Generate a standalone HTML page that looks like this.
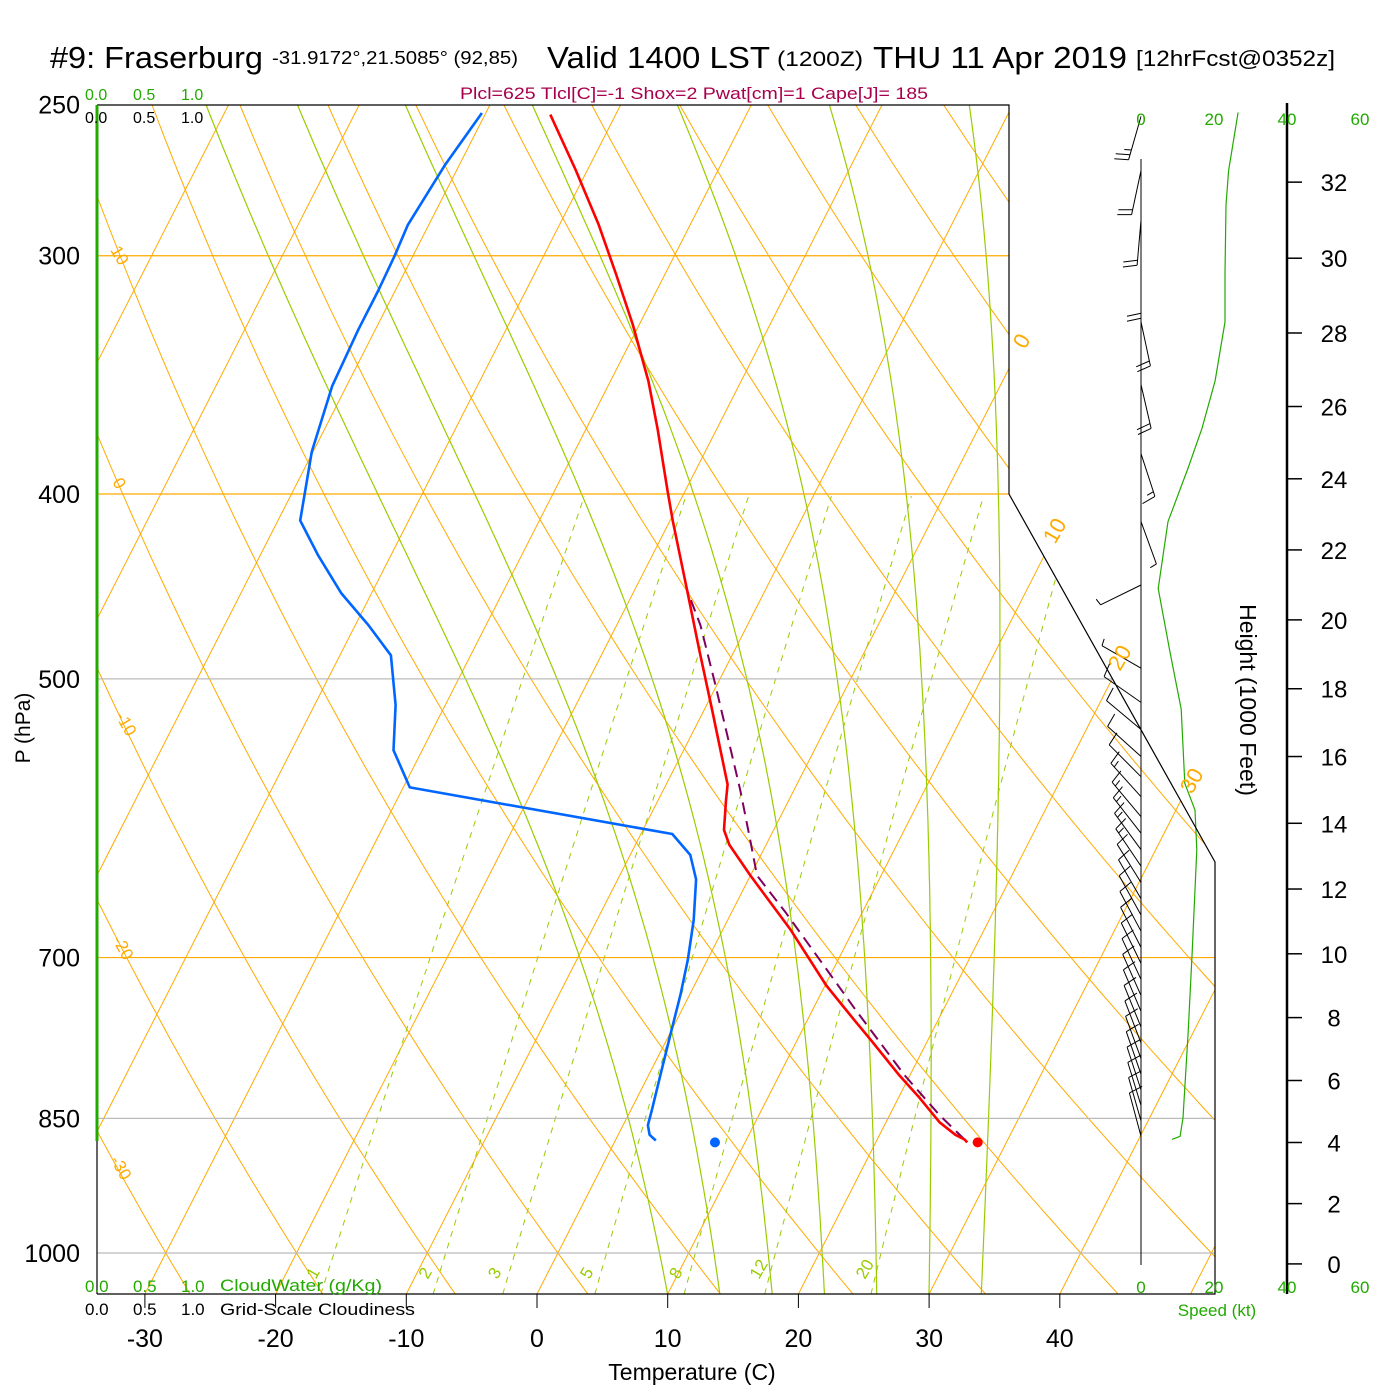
<!DOCTYPE html>
<html><head><meta charset="utf-8"><title>Skew-T Fraserburg</title>
<style>
html,body{margin:0;padding:0;background:#fff;}
svg{display:block;font-family:"Liberation Sans",Arial,sans-serif;}
</style></head>
<body>
<svg id="chart" width="1400" height="1400" viewBox="0 0 1400 1400" xmlns="http://www.w3.org/2000/svg">
<defs>
<clipPath id="plotclip"><path d="M97,105 L1009,105 L1009,494 L1215,862 L1215,1294 L97,1294 Z"/></clipPath>
</defs>
<rect x="0" y="0" width="1400" height="1400" fill="#fff"/>
<g id="grid" clip-path="url(#plotclip)"></g>
<g id="series" clip-path="url(#plotclip)"></g>
<g id="wind"></g>
<g id="axes"></g>

<text x="50" y="68" font-size="31" textLength="213" lengthAdjust="spacingAndGlyphs">#9: Fraserburg</text>
<text x="272" y="64" font-size="18" textLength="246" lengthAdjust="spacingAndGlyphs">-31.9172°,21.5085° (92,85)</text>
<text x="547" y="68" font-size="31" textLength="223" lengthAdjust="spacingAndGlyphs">Valid 1400 LST</text>
<text x="777" y="66" font-size="21" textLength="86" lengthAdjust="spacingAndGlyphs">(1200Z)</text>
<text x="873" y="68" font-size="31" textLength="254" lengthAdjust="spacingAndGlyphs">THU 11 Apr 2019</text>
<text x="1136" y="66" font-size="22" textLength="199" lengthAdjust="spacingAndGlyphs">[12hrFcst@0352z]</text>
<text x="460" y="99" font-size="17" fill="#a8004c" textLength="468" lengthAdjust="spacingAndGlyphs">Plcl=625 Tlcl[C]=-1 Shox=2 Pwat[cm]=1 Cape[J]= 185</text>

<g font-size="16" fill="#22aa00">
<text x="85" y="100">0.0</text><text x="133" y="100">0.5</text><text x="181" y="100">1.0</text></g>
<g font-size="16" fill="#000">
<text x="85" y="123">0.0</text><text x="133" y="123">0.5</text><text x="181" y="123">1.0</text></g>
<g font-size="17" fill="#22aa00">
<text x="85" y="1292">0.0</text><text x="133" y="1292">0.5</text><text x="181" y="1292">1.0</text><text x="220" y="1291" textLength="162" lengthAdjust="spacingAndGlyphs">CloudWater (g/Kg)</text></g>
<g font-size="17" fill="#000">
<text x="85" y="1315">0.0</text><text x="133" y="1315">0.5</text><text x="181" y="1315">1.0</text><text x="220" y="1315" textLength="195" lengthAdjust="spacingAndGlyphs">Grid-Scale Cloudiness</text></g>

<text x="692" y="1380" font-size="23" text-anchor="middle">Temperature (C)</text>
<text transform="translate(30,728) rotate(-90)" font-size="21" text-anchor="middle">P (hPa)</text>
<text transform="translate(1240,700) rotate(90)" font-size="23" text-anchor="middle">Height (1000 Feet)</text>
<text x="1217" y="1316" font-size="17" fill="#22aa00" text-anchor="middle">Speed (kt)</text>

<script>
const pressureTicks=[250,300,400,500,700,850,1000];
const pressureTickLabels=["250","300","400","500","700","850","1000"];
const tempTicks=[-30,-20,-10,0,10,20,30,40];
const tempTickLabels=["-30","-20","-10","0","10","20","30","40"];
const heightTicks=[0,2,4,6,8,10,12,14,16,18,20,22,24,26,28,30,32];
const speedTicks=[0,20,40,60];

const tempP=[875,872,867,854,828,807,773,755,724,677,634,611,600,579,568,519,483,449,413,398,370,349,326,307,289,270.5,253];
const tempC=[27.0,26.7,25.8,24.1,21.5,19.2,15.6,13.6,10.1,5.2,0.0,-2.8,-3.8,-4.8,-5.3,-9.4,-12.7,-16.0,-19.8,-21.4,-24.5,-27.1,-30.5,-33.7,-37.0,-40.9,-45.0];
const dewP=[873,867,857,841,807,769,732,702,669,637,618.5,603,570,545,516,486,468.6,451,430.5,413,380,351,328,313,300,289,269,252.5];
const dewC=[3.1,2.4,1.9,1.6,0.9,0.1,-0.7,-1.5,-2.6,-4.0,-5.4,-7.6,-29.5,-32.2,-33.8,-36.1,-39.0,-42.3,-45.6,-48.3,-50.1,-51.1,-51.3,-51.3,-51.4,-51.6,-51.1,-50.3];
const parcelP=[872,846.5,807,745.7,702,662.6,634,607.4,572,538,500.7,468.6,449];
const parcelC=[26.7,23.8,19.6,13.3,8.6,4.1,0.5,-1.4,-4.1,-7.0,-10.4,-13.6,-16.0];
const surfaceP=[875];
const surfaceT=[27.8];
const surfaceTd=[7.7];

const speedKft=[4.1,4.2,4.8,7.5,10.0,13.2,14.4,15.2,17.4,19.1,20.9,22.8,24.3,25.4,26.7,28.3,29.6,31.4,32.3,33.8];
const speedKt=[8.5,10.7,11.5,12.9,14,15.3,14.8,12,11,7.9,4.7,7.4,12.9,16.7,20.3,23,23,23.3,24,26.6];

const windKft=[33.7,32.3,31.0,29.6,28.3,26.6,24.7,22.8,21.0,18.6,17.6,16.8,16.0,15.4,14.8,14.2,13.7,13.2,12.7,12.2,11.7,11.2,10.7,10.2,9.7,9.2,8.7,8.2,7.7,7.2,6.7,6.2,5.7,5.2,4.7,4.2];
const windDir=[196,192,185,180,168,167,162,160,244,300,305,310,312,315,318,320,322,324,326,328,330,331,332,333,334,335,336,337,338,339,340,341,342,343,344,345];
const windKt=[27,24,23,23,23,20,15,8,5,8,11,12,13,14,15,15,15,15,15,14,14,14,14,14,13,13,13,13,12,12,12,12,12,11,11,11];

const dryThetas=[-40,-30,-20,-10,0,10,20,30,40,50,60,70,80,90,100,110,120,130,140,150,160,170,180];
const isotherms=[-130,-120,-110,-100,-90,-80,-70,-60,-50,-40,-30,-20,-10,0,10,20,30,40,50];
const moistStarts=[10,14,18,22,26,30,34];
const mixRatios=[1,2,3,5,8,12,20];

const NS='http://www.w3.org/2000/svg';
function yP(p){return 1253-828.3*Math.log(1000/p);}
function xTP(T,p){return 537+13.07*T+0.51*(1294-yP(p));}
function kftToP(k){const z=k*304.8;return 1013.25*Math.pow(1-z/44330.8,5.2559);}
function yK(k){return yP(kftToP(k));}
function xSpd(s){return 1141+3.65*s;}
function mk(tag,attrs,parent){const e=document.createElementNS(NS,tag);for(const k in attrs)e.setAttribute(k,attrs[k]);parent.appendChild(e);return e;}
function pts(arr){return arr.map(a=>a[0].toFixed(1)+','+a[1].toFixed(1)).join(' ');}

const grid=document.getElementById('grid');
const series=document.getElementById('series');
const wind=document.getElementById('wind');
const axes=document.getElementById('axes');
const ORANGE='#ffaa00', GREEN='#99cc00';

isotherms.forEach(t=>{
  const l=mk('line',{x1:xTP(t,1051),y1:yP(1051),x2:xTP(t,240),y2:yP(240),stroke:ORANGE,'stroke-width':1},grid);
  
  
});
dryThetas.forEach(th=>{
  const a=[];for(let p=1051;p>=240;p-=10){a.push([xTP((th+273.15)*Math.pow(p/1000,0.2857)-273.15,p),yP(p)]);}
  const l=mk('polyline',{points:pts(a),fill:'none',stroke:ORANGE,'stroke-width':1},grid);
  
  
});
function es(tc){return 6.112*Math.exp(17.67*tc/(tc+243.5));}
function moist(T0,p0,pEnd){
  let T=T0+273.15,p=p0;const a=[[xTP(T0,p0),yP(p0)]];
  while(p>pEnd){
    const e=es(T-273.15),rs=0.622*e/(p-e);
    const dTdp=(287*T+2.5e6*rs)/(p*(1004+2.5e6*2.5e6*rs*0.622/(287*T*T)));
    T-= dTdp*4; p-=4;
    a.push([xTP(T-273.15,p),yP(p)]);
  }
  return a;
}
moistStarts.forEach(t=>{
  const l=mk('polyline',{points:pts(moist(t,1051,240)),fill:'none',stroke:GREEN,'stroke-width':1.2},grid);
  
  
});
mixRatios.forEach(w=>{
  const a=[];for(let p=1051;p>=400;p-=10){const e=(w/1000)*p/(0.622+w/1000);const L=Math.log(e/6.112);const td=243.5*L/(17.67-L);a.push([xTP(td,p),yP(p)]);}
  const l=mk('polyline',{points:pts(a),fill:'none',stroke:GREEN,'stroke-width':1,'stroke-dasharray':'6,6'},grid);
  
  
  const e0=(w/1000)*1040/(0.622+w/1000);const L0=Math.log(e0/6.112);const td0=243.5*L0/(17.67-L0);
  const bx=xTP(td0,1040)-8;
  const tx=mk('text',{x:bx,y:1280,'font-size':17,fill:GREEN,transform:'rotate(-60 '+bx+' 1280)'},axes);
  tx.textContent=String(w);
  
  
});
pressureTicks.forEach(p=>{
  const col=(p===300||p===400||p===700)?ORANGE:'#bbbbbb';
  const l=mk('line',{x1:97,y1:yP(p),x2:1215,y2:yP(p),stroke:col,'stroke-width':1.2},grid);
  
  
});

function line(P,T,attrs,name){
  const a=P.map((p,i)=>[xTP(T[i],p),yP(p)]);
  const attr=Object.assign({points:pts(a),fill:'none','stroke-linejoin':'round'},attrs);
  const l=mk('polyline',attr,series);
  
  
}
line(parcelP,parcelC,{stroke:'#800060','stroke-width':2,'stroke-dasharray':'12,7'},'parcel-path');
line(tempP,tempC,{stroke:'#ff0000','stroke-width':2.6},'temperature-line');
line(dewP,dewC,{stroke:'#0066ff','stroke-width':2.6},'dewpoint-line');
const d1=mk('circle',{cx:xTP(surfaceT[0],surfaceP[0]),cy:yP(surfaceP[0]),r:5,fill:'#ff0000'},series);


const d2=mk('circle',{cx:xTP(surfaceTd[0],surfaceP[0]),cy:yP(surfaceP[0]),r:5,fill:'#0066ff'},series);



const fr=mk('path',{d:'M97,105 L1009,105 L1009,494 L1215,862 L1215,1294 L97,1294',fill:'none',stroke:'#000','stroke-width':1.2},axes);


const lg=mk('line',{x1:97,y1:105,x2:97,y2:1141,stroke:'#22aa00','stroke-width':3},axes);


const lb=mk('line',{x1:97,y1:1141,x2:97,y2:1294,stroke:'#000','stroke-width':1.2},axes);



const dryLbl=[["10",110,250],["0",112,482],["-10",115,716],["-20",112,940],["-30",110,1160]];
dryLbl.forEach(d=>{const t=mk('text',{x:d[1],y:d[2],'font-size':17,fill:ORANGE,transform:'rotate(60 '+d[1]+' '+d[2]+')'},axes);t.textContent=d[0];
  
  });
const isoLbl=[["0",1025,350],["10",1055,545],["20",1120,672],["30",1192,795]];
isoLbl.forEach(d=>{const t=mk('text',{x:d[1],y:d[2],'font-size':22,fill:ORANGE,transform:'rotate(-60 '+d[1]+' '+d[2]+')'},axes);t.textContent=d[0];
  
  });

pressureTicks.forEach((p,i)=>{
  const t=mk('text',{x:80,y:yP(p)+9,'font-size':25,'text-anchor':'end'},axes);
  t.textContent=pressureTickLabels[i];
  
  
});
tempTicks.forEach((tv,i)=>{
  const x=537+13.07*tv;
  const tk=mk('line',{x1:x,y1:1294,x2:x,y2:1308,stroke:'#000','stroke-width':1},axes);
  
  
  const t=mk('text',{x:x,y:1347,'font-size':25,'text-anchor':'middle'},axes);
  t.textContent=tempTickLabels[i];
  
  
});
const ha=mk('line',{x1:1287,y1:103,x2:1287,y2:1294,stroke:'#000','stroke-width':2.5},axes);


heightTicks.forEach(h=>{
  const y=yK(h);
  const tk=mk('line',{x1:1287,y1:y,x2:1302,y2:y,stroke:'#000','stroke-width':1.5},axes);
  
  
  const t=mk('text',{x:1334,y:y+9,'font-size':24,'text-anchor':'middle'},axes);
  t.textContent=String(h);
  
  
});
speedTicks.forEach(s=>{
  const t1=mk('text',{x:xSpd(s),y:125,'font-size':17,fill:'#22aa00','text-anchor':'middle'},axes);
  t1.textContent=String(s);
  
  
  const t2=mk('text',{x:xSpd(s),y:1293,'font-size':17,fill:'#22aa00','text-anchor':'middle'},axes);
  t2.textContent=String(s);
  
  
});

const wa=mk('line',{x1:1141,y1:yK(32.6),x2:1141,y2:1265,stroke:'#000','stroke-width':1},wind);


const sp=mk('polyline',{points:pts(speedKft.map((k,i)=>[xSpd(speedKt[i]),yK(k)])),fill:'none',stroke:'#22aa00','stroke-width':1.2},wind);


windKft.forEach((k,i)=>{
  const y0=yK(k), x0=1141, L=45, rad=windDir[i]*Math.PI/180;
  const sx=Math.sin(rad), sy=-Math.cos(rad);
  const tx=x0+L*sx, ty=y0+L*sy;
  let d='M'+x0+','+y0.toFixed(1)+' L'+tx.toFixed(1)+','+ty.toFixed(1);
  let s=windKt[i], off=0;
  const bx=-sy, by=sx;
  while(s>=10){const px=tx-off*sx, py=ty-off*sy;d+=' M'+px.toFixed(1)+','+py.toFixed(1)+' l'+(14*bx+3*sx).toFixed(1)+','+(14*by+3*sy).toFixed(1);s-=10;off+=5;}
  if(s>=5){const px=tx-off*sx, py=ty-off*sy;d+=' M'+px.toFixed(1)+','+py.toFixed(1)+' l'+(7*bx+1.5*sx).toFixed(1)+','+(7*by+1.5*sy).toFixed(1);}
  const b=mk('path',{d:d,fill:'none',stroke:'#000','stroke-width':1},wind);
  
  
});
</script>
</svg>
</body></html>
